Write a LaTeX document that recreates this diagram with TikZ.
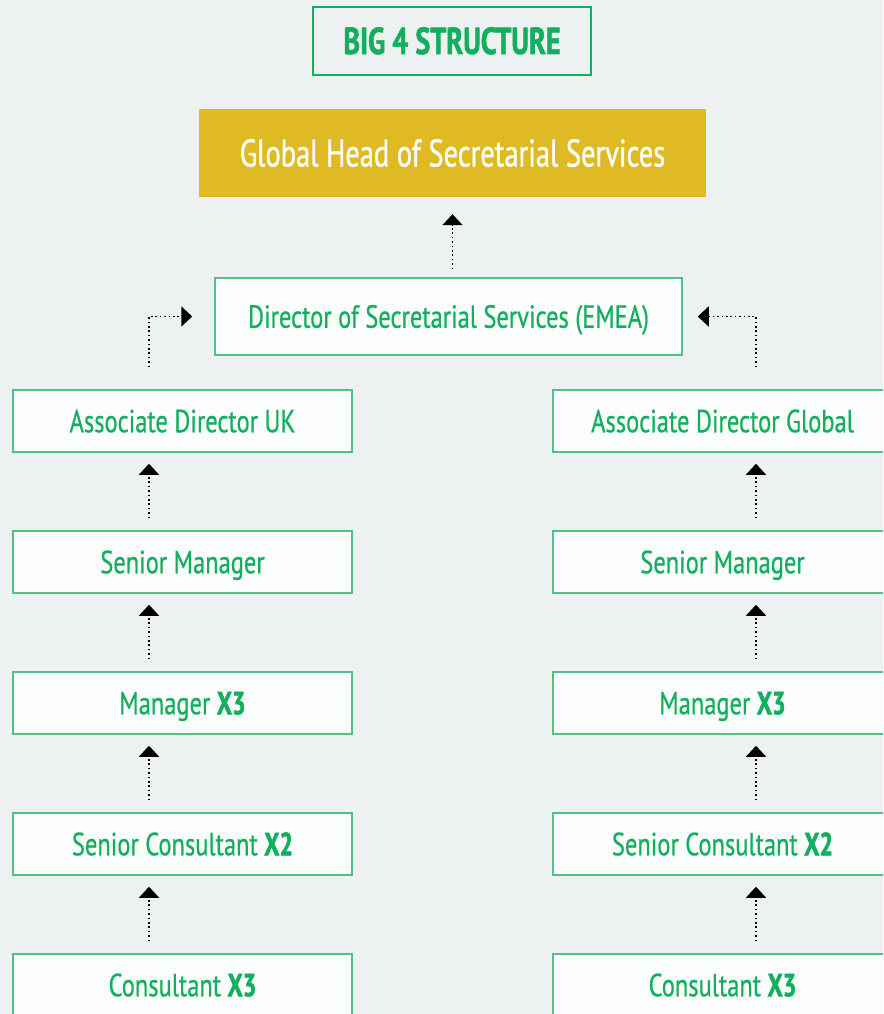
\documentclass[tikz,border=0pt]{standalone}
\usepackage{fontspec}
\setmainfont{PT Sans}[FakeStretch=0.765,FakeBold=0.6]
\newfontfamily\boldx{PT Sans Bold}[FakeStretch=0.75,FakeBold=1.6]
\newfontfamily\goldfont{PT Sans}[FakeStretch=0.74,FakeBold=0.9]
\usetikzlibrary{arrows.meta,calc}
\definecolor{bg}{HTML}{EEF1F2}
\definecolor{boxfill}{HTML}{FBFDFD}
\definecolor{boxline}{HTML}{4CC285}
\definecolor{gtext}{HTML}{14AF5E}
\definecolor{gold}{HTML}{E0BA24}
\tikzset{
  rowbox/.style={draw=boxline, line width=1.5pt, fill=boxfill, text=gtext,
    minimum width=339pt, minimum height=62pt, inner sep=0pt,
    text height=22.5pt, text depth=0pt,
    font=\fontsize{32}{32}\selectfont},
  conn/.style={line width=1.6pt, dash pattern=on 1.6pt off 2.8pt,
    -{Triangle[width=20pt,length=11pt]}},
}
\newcommand{\xb}[1]{{\boldx #1}}
\begin{document}
\begin{tikzpicture}[x=1pt,y=-1pt]
\useasboundingbox (0,0) rectangle (883,1014);
\clip (0,0) rectangle (883,1014);
\fill[bg] (0,0) rectangle (883,1014);
% title
\node[draw=gtext, line width=1.8pt, fill=bg, text=gtext, minimum width=278pt,
  minimum height=68pt, inner sep=0pt, text height=26pt, text depth=0pt,
  font=\boldx\fontsize{37.5}{37.5}\selectfont]
  (title) at (452,41) {BIG 4 STRUCTURE};
% gold
\node[fill=gold, text=white, minimum width=507pt, minimum height=88pt, inner sep=0pt,
  text height=27pt, text depth=0pt,
  font=\goldfont\fontsize{38.5}{38.5}\selectfont] (gold) at (452.5,153) {Global Head of Secretarial Services};
% director
\node[rowbox, minimum width=467pt, minimum height=77pt] (dir) at (448.5,316.5)
  {Director of Secretarial Services (EMEA)};
% left column
\node[rowbox] (lad) at (182.5,421) {Associate Director UK};
\node[rowbox] (lsm) at (182.5,562) {Senior Manager};
\node[rowbox] (lm)  at (182.5,703) {Manager \xb{X3}};
\node[rowbox] (lsc) at (182.5,844) {Senior Consultant \xb{X2}};
\node[rowbox] (lc)  at (182.5,985) {Consultant \xb{X3}};
% right column
\node[rowbox] (rad) at (722.5,421) {Associate Director Global};
\node[rowbox] (rsm) at (722.5,562) {Senior Manager};
\node[rowbox] (rm)  at (722.5,703) {Manager \xb{X3}};
\node[rowbox] (rsc) at (722.5,844) {Senior Consultant \xb{X2}};
\node[rowbox] (rc)  at (722.5,985) {Consultant \xb{X3}};
% connectors
\draw[conn] ($(dir.north -| gold.south)+(0,-8)$) -- ([yshift=-17pt]gold.south);
\draw[conn] ([xshift=-33.5pt,yshift=22pt]lad.north) |- ([xshift=-22pt]dir.west);
\draw[conn] ([xshift=33.5pt,yshift=22pt]rad.north) |- ([xshift=15pt]dir.east);
\foreach \lo/\up in {lsm/lad,lm/lsm,lsc/lm,lc/lsc}{
  \draw[conn] ([xshift=-33.5pt,yshift=12pt]\lo.north) -- ([xshift=-33.5pt,yshift=-11pt]\up.south);
}
\foreach \lo/\up in {rsm/rad,rm/rsm,rsc/rm,rc/rsc}{
  \draw[conn] ([xshift=33.5pt,yshift=12pt]\lo.north) -- ([xshift=33.5pt,yshift=-11pt]\up.south);
}
\end{tikzpicture}
\end{document}
